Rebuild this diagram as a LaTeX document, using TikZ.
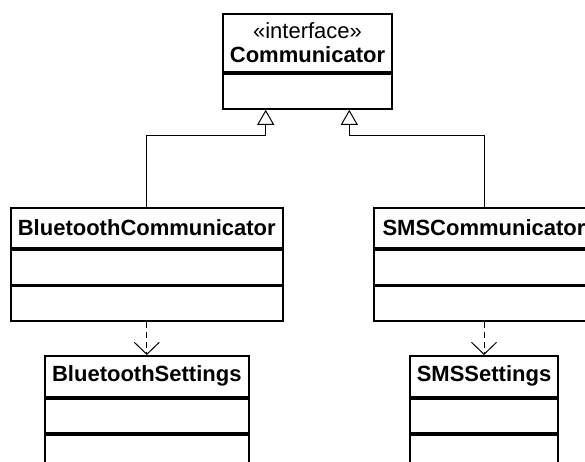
\documentclass[tikz,border=0pt]{standalone}
\usepackage{fontspec}
\setmainfont{Liberation Sans}
\usetikzlibrary{arrows.meta}
\tikzset{
  cls/.style={draw, line width=1.9pt, inner sep=0pt, anchor=north, font=\fontsize{22}{24}\selectfont\bfseries},
  gen/.style={line width=1pt, -{Triangle[open, length=15pt, width=17pt, fill=white]}},
  dep/.style={line width=1pt, dash pattern=on 6pt off 4pt, -{Straight Barb[length=12pt, width=25pt, line width=1pt]}}
}
\begin{document}
\begin{tikzpicture}[x=1pt,y=-1pt]
\clip (0,0) rectangle (585,461);
\fill[white] (0,0) rectangle (585,461);
% Communicator
\node[cls, minimum width=169.6pt, minimum height=58.3pt, align=center] (commname) at (307.5,12.7)
  {{\mdseries «interface»}\\Communicator};
\node[cls, minimum width=169.6pt, minimum height=35pt] (commbody) at (commname.south) {};
% BluetoothCommunicator
\node[cls, minimum width=271.7pt, minimum height=40.6pt] (btname) at (146.8,206.7) {BluetoothCommunicator};
\node[cls, minimum width=271.7pt, minimum height=34.4pt] (btattr) at (btname.south) {};
\node[cls, minimum width=271.7pt, minimum height=34.3pt] (btops) at (btattr.south) {};
% SMSCommunicator
\node[cls, minimum width=219.4pt, minimum height=40.6pt] (smsname) at (484,206.7) {SMSCommunicator};
\node[cls, minimum width=219.4pt, minimum height=34.4pt] (smsattr) at (smsname.south) {};
\node[cls, minimum width=219.4pt, minimum height=34.3pt] (smsops) at (smsattr.south) {};
% BluetoothSettings
\node[cls, minimum width=204.3pt, minimum height=40.7pt] (bsname) at (146.8,355) {BluetoothSettings};
\node[cls, minimum width=204.3pt, minimum height=34.3pt] (bsattr) at (bsname.south) {};
\node[cls, minimum width=204.3pt, minimum height=40pt] (bsops) at (bsattr.south) {};
% SMSSettings
\node[cls, minimum width=148pt, minimum height=40.7pt] (ssname) at (484,355) {SMSSettings};
\node[cls, minimum width=148pt, minimum height=34.3pt] (ssattr) at (ssname.south) {};
\node[cls, minimum width=148pt, minimum height=40pt] (ssops) at (ssattr.south) {};
% junctions
\coordinate (j1) at (265.7,135);
\coordinate (j2) at (349.3,135);
% generalizations
\draw[gen] (btname.north) |- (j1) -- ([xshift=-41.8pt]commbody.south);
\draw[gen] (smsname.north) |- (j2) -- ([xshift=41.8pt]commbody.south);
% dependencies
\draw[dep] (btops.south) -- (bsname.north);
\draw[dep] (smsops.south) -- (ssname.north);
\end{tikzpicture}
\end{document}
